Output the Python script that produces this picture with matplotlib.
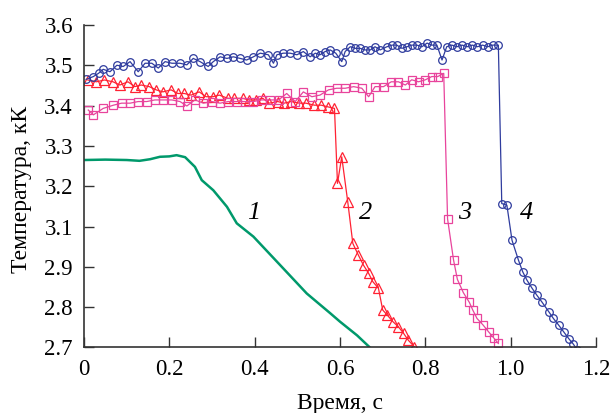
import matplotlib
matplotlib.use("Agg")
from matplotlib import pyplot as plt

FONT = 'Liberation Serif'
plt.rcParams['font.family'] = [FONT, 'DejaVu Serif']

# curve 1 (green, no markers)
t1 = [0.0, 0.05, 0.1, 0.13, 0.155, 0.178, 0.2, 0.217, 0.237, 0.26, 0.276, 0.303,
      0.335, 0.358, 0.397, 0.46, 0.522, 0.577, 0.6, 0.64, 0.675]
v1 = [3.265, 3.266, 3.265, 3.263, 3.267, 3.273, 3.274, 3.277, 3.272, 3.248, 3.215, 3.19,
      3.149, 3.108, 3.075, 3.004, 2.934, 2.885, 2.864, 2.83, 2.795]

# curve 2 (red triangles)
t2 = [0.009, 0.029, 0.048, 0.068, 0.084, 0.103, 0.119, 0.134, 0.153, 0.169, 0.185, 0.204,
      0.22, 0.235, 0.251, 0.27, 0.286, 0.302, 0.317, 0.337, 0.352, 0.372, 0.387, 0.403,
      0.419, 0.434, 0.454, 0.469, 0.485, 0.505, 0.52, 0.54, 0.556, 0.571, 0.587,
      0.594, 0.604, 0.618, 0.63, 0.643, 0.655, 0.667, 0.677, 0.69, 0.70, 0.711, 0.724,
      0.737, 0.749, 0.76, 0.774]
v2 = [3.4635, 3.459, 3.4635, 3.459, 3.451, 3.459, 3.447, 3.451, 3.447, 3.439, 3.434, 3.439,
      3.430, 3.430, 3.426, 3.434, 3.422, 3.422, 3.426, 3.418, 3.418, 3.418, 3.414, 3.414,
      3.418, 3.406, 3.410, 3.406, 3.410, 3.406, 3.406, 3.401, 3.401, 3.397, 3.393,
      3.207, 3.273, 3.162, 3.058, 3.029, 3.004, 2.984, 2.963, 2.947, 2.893, 2.88, 2.864,
      2.851, 2.835, 2.818, 2.802]

# curve 3 (magenta squares)
t3 = [0.01, 0.022, 0.045, 0.069, 0.088, 0.108, 0.127, 0.147, 0.166, 0.186, 0.206, 0.225,
      0.241, 0.26, 0.28, 0.299, 0.319, 0.338, 0.358, 0.377, 0.397, 0.416, 0.436, 0.456,
      0.475, 0.495, 0.514, 0.534, 0.553, 0.573, 0.592, 0.612, 0.632, 0.651, 0.667, 0.682,
      0.702, 0.72, 0.737, 0.753, 0.768, 0.784, 0.8, 0.815, 0.829, 0.843,
      0.852, 0.866, 0.875, 0.889, 0.903, 0.911, 0.921, 0.935, 0.948, 0.96, 0.971]
v3 = [3.389, 3.377, 3.393, 3.401, 3.406, 3.406, 3.410, 3.410, 3.414, 3.414, 3.414, 3.410,
      3.399, 3.414, 3.406, 3.410, 3.406, 3.410, 3.410, 3.410, 3.410, 3.414, 3.414, 3.414,
      3.430, 3.410, 3.434, 3.422, 3.426, 3.439, 3.443, 3.443, 3.447, 3.443, 3.422, 3.447,
      3.447, 3.459, 3.459, 3.451, 3.464, 3.459, 3.464, 3.472, 3.472, 3.48,
      3.119, 3.017, 2.969, 2.936, 2.912, 2.893, 2.872, 2.856, 2.839, 2.824, 2.81]

# curve 4 (blue circles)
t4 = [0.005, 0.022, 0.034, 0.045, 0.061, 0.077, 0.092, 0.108, 0.127, 0.143, 0.159, 0.174,
      0.19, 0.206, 0.225, 0.241, 0.256, 0.272, 0.291, 0.303, 0.319, 0.335, 0.35, 0.366,
      0.381, 0.397, 0.413, 0.432, 0.444, 0.452, 0.467, 0.483, 0.499, 0.514, 0.53, 0.542,
      0.553, 0.565, 0.577, 0.59, 0.604, 0.612, 0.624, 0.635, 0.647, 0.659, 0.671, 0.682,
      0.694, 0.71, 0.722, 0.733, 0.745, 0.757, 0.768, 0.78, 0.792, 0.804, 0.815, 0.827,
      0.839, 0.85, 0.862, 0.874, 0.886, 0.898, 0.91, 0.922, 0.934, 0.946, 0.958, 0.971,
      0.979, 0.991, 1.003, 1.018, 1.028, 1.038, 1.05, 1.061, 1.073, 1.089, 1.10, 1.112,
      1.124, 1.136, 1.147, 1.155]
v4 = [3.465, 3.472, 3.48, 3.49, 3.484, 3.50, 3.497, 3.509, 3.484, 3.505, 3.505, 3.493,
      3.509, 3.505, 3.505, 3.501, 3.517, 3.509, 3.497, 3.509, 3.521, 3.517, 3.521, 3.517,
      3.513, 3.521, 3.53, 3.526, 3.505, 3.526, 3.53, 3.53, 3.526, 3.534, 3.521, 3.53,
      3.526, 3.534, 3.538, 3.53, 3.509, 3.534, 3.546, 3.542, 3.542, 3.538, 3.538, 3.546,
      3.538, 3.546, 3.55, 3.55, 3.542, 3.546, 3.55, 3.55, 3.546, 3.555, 3.55, 3.55,
      3.513, 3.546, 3.55, 3.546, 3.55, 3.546, 3.55, 3.546, 3.55, 3.546, 3.55, 3.55,
      3.157, 3.153, 3.066, 3.017, 2.988, 2.967, 2.947, 2.93, 2.913, 2.889, 2.872, 2.856,
      2.839, 2.822, 2.808, 2.795]

curve_names = ['1', '2', '3', '4']
name_x = [0.397, 0.659, 0.893, 1.036]
name_y = [3.133, 3.133, 3.133, 3.133]

# the original axis skips 3.0 in its labels
y_ticks = [2.8, 2.9, 3.0, 3.1, 3.2, 3.3, 3.4, 3.5, 3.6]
y_ticklabels = ['2.7', '2.8', '2.9', '3.1', '3.2', '3.3', '3.4', '3.5', '3.6']
x_ticks = [0, 0.2, 0.4, 0.6, 0.8, 1.0, 1.2]
x_ticklabels = ['0', '0.2', '0.4', '0.6', '0.8', '1.0', '1.2']

fig = plt.figure(figsize=(6.14, 4.13), dpi=100)
ax = fig.add_axes([0.1368, 0.1586, 0.834, 0.781])

ax.plot(t1, v1, color='#00996b', lw=1.8)
ax.plot(t2, v2, color='#ff2233', lw=0.9, marker='^', ms=6.5, mfc='none', mew=0.9)
ax.plot(t3, v3, color='#e8449c', lw=0.9, marker='s', ms=6, mfc='none', mew=0.9)
ax.plot(t4, v4, color='#2f3c9e', lw=0.9, marker='o', ms=5.5, mfc='none', mew=0.9)

for name, x, y in zip(curve_names, name_x, name_y):
    ax.text(x, y, name, fontsize=19, style='italic', family=FONT,
            ha='center', va='center')

ax.set_xlim(0, 1.2)
ax.set_ylim(2.8, 3.6)
ax.set_xticks(x_ticks)
ax.set_xticklabels(x_ticklabels, family=FONT, fontsize=16.5)
ax.set_yticks(y_ticks)
ax.set_yticklabels(y_ticklabels, family=FONT, fontsize=16.5)

for side in ['top', 'right']:
    ax.spines[side].set_visible(False)
for side in ['left', 'bottom']:
    ax.spines[side].set_color('#333333')
    ax.spines[side].set_linewidth(1.2)
ax.tick_params(direction='in', length=7, width=1.0, color='#333333', pad=8)

ax.set_xlabel('Время, с', fontsize=17, family=FONT)
ax.set_ylabel('Температура, кК', fontsize=17, family=FONT)
ax.xaxis.set_label_coords(0.5, -0.14)
ax.yaxis.set_label_coords(-0.102, 0.49)

fig.savefig('out.png', dpi=100)
